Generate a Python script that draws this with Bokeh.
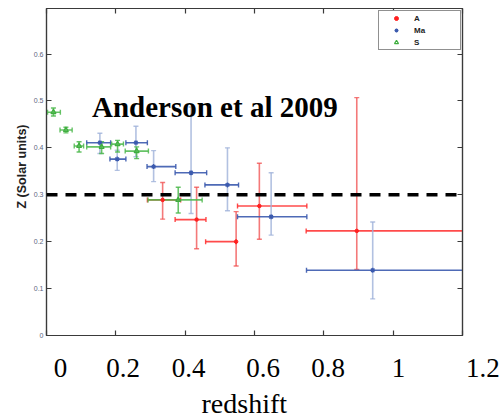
import math
from bokeh.plotting import figure
from bokeh.models import (Range1d, LinearAxis, FixedTicker, Span, Label, Title,
                          Legend, LegendItem)
from bokeh.embed import file_html
from bokeh.resources import INLINE

# ---------------- data ----------------
# Series "A" (red)
a_z    = [0.335, 0.433, 0.547, 0.614, 0.895]
a_z_lo = [0.291, 0.371, 0.459, 0.551, 0.749]
a_z_hi = [0.387, 0.460, 0.547, 0.751, 1.300]
a_m    = [0.289, 0.247, 0.200, 0.276, 0.223]
a_m_lo = [0.248, 0.185, 0.148, 0.205, 0.141]
a_m_hi = [0.326, 0.316, 0.264, 0.367, 0.507]

# Series "Ma" (blue)
ma_z    = [0.154, 0.204, 0.258, 0.309, 0.417, 0.522, 0.648, 0.941]
ma_z_lo = [0.116, 0.183, 0.229, 0.290, 0.371, 0.457, 0.551, 0.750]
ma_z_hi = [0.185, 0.229, 0.291, 0.373, 0.462, 0.554, 0.751, 1.300]
ma_m    = [0.411, 0.376, 0.411, 0.360, 0.347, 0.321, 0.253, 0.139]
ma_m_lo = [0.388, 0.352, 0.381, 0.328, 0.260, 0.266, 0.214, 0.078]
ma_m_hi = [0.431, 0.395, 0.446, 0.394, 0.487, 0.400, 0.347, 0.242]

# Series "S" (green)
s_z    = [0.020, 0.056, 0.094, 0.159, 0.205, 0.260, 0.380]
s_z_lo = [0.003, 0.039, 0.080, 0.116, 0.188, 0.227, 0.293]
s_z_hi = [0.040, 0.074, 0.107, 0.185, 0.222, 0.294, 0.449]
s_m    = [0.476, 0.438, 0.404, 0.402, 0.408, 0.393, 0.289]
s_m_lo = [0.468, 0.432, 0.391, 0.388, 0.391, 0.377, 0.261]
s_m_hi = [0.485, 0.444, 0.413, 0.413, 0.416, 0.402, 0.316]

ref_level = 0.3

x_ticks = [0, 0.2, 0.4, 0.6, 0.8, 1.0, 1.2]
x_tick_labels = ["0", "0.2", "0.4", "0.6", "0.8", "1", "1.2"]
y_ticks = [0, 0.1, 0.2, 0.3, 0.4, 0.5, 0.6]
y_tick_labels = ["0", "0.1", "0.2", "0.3", "0.4", "0.5", "0.6"]

title_text = "Anderson et al 2009"
x_title = "redshift"
y_title = "Z (Solar units)"
series_names = ["A", "Ma", "S"]

# ---------------- figure ----------------
X0, X1 = 0.0, 1.2
Y0, Y1 = 0.0, 0.697
FL, FR, FT, FB = 46, 462, 8, 335   # frame edges in pixels

p = figure(width=501, height=419, x_range=Range1d(X0, X1), y_range=Range1d(Y0, Y1),
           output_backend="svg", toolbar_location=None,
           min_border_left=FL, min_border_right=501 - FR, min_border_top=FT,
           min_border_bottom=419 - FB)
p.background_fill_color = "white"
p.border_fill_color = "white"
p.outline_line_color = "#3a3a3a"
p.outline_line_width = 1.2
p.xgrid.visible = False
p.ygrid.visible = False

axis_col = "#3a3a3a"

def style_axis(ax, ticks, show_labels, labels=None):
    ax.ticker = FixedTicker(ticks=ticks)
    ax.axis_line_color = axis_col
    ax.axis_line_width = 1.2
    ax.major_tick_line_color = axis_col
    ax.major_tick_line_width = 1.2
    ax.major_tick_in = 5
    ax.major_tick_out = 0
    ax.minor_tick_line_color = None
    if show_labels:
        ax.major_label_text_font = "Liberation Sans"
        ax.major_label_text_font_size = "7px"
        ax.major_label_text_color = "#5d6680"
        ax.major_label_standoff = 3
        if labels is not None:
            ax.major_label_overrides = {t: l for t, l in zip(ticks, labels)}
    else:
        ax.major_label_text_font_size = "0px"
        ax.major_label_text_color = None
        ax.major_label_standoff = 0

style_axis(p.xaxis[0], x_ticks, False)
style_axis(p.yaxis[0], y_ticks, True, y_tick_labels)

top_ax = LinearAxis()
style_axis(top_ax, x_ticks, False)
p.add_layout(top_ax, "above")
right_ax = LinearAxis()
style_axis(right_ax, y_ticks, False)
p.add_layout(right_ax, "right")

# big slide-style x tick labels, on an extra axis without line / ticks
def px_to_x(px):
    return X0 + (px - FL) / (FR - FL) * (X1 - X0)

def py_to_y(py):
    return Y0 + (FB - py) / (FB - FT) * (Y1 - Y0)

label_px = [60, 122.5, 188, 262.5, 327.5, 398]
big_pos = [px_to_x(v) for v in label_px] + [x_ticks[-1]]
big_txt = x_tick_labels[:-1] + ["\u00a0" * 6 + x_tick_labels[-1]]
big_ax = LinearAxis(ticker=FixedTicker(ticks=big_pos),
                    major_label_overrides={t: l for t, l in zip(big_pos, big_txt)})
big_ax.axis_line_color = None
big_ax.major_tick_line_color = None
big_ax.minor_tick_line_color = None
big_ax.major_tick_in = 0
big_ax.major_tick_out = 0
big_ax.major_label_standoff = 17
big_ax.major_label_text_font = "Liberation Serif"
big_ax.major_label_text_font_size = "27px"
big_ax.major_label_text_color = "black"
p.add_layout(big_ax, "below")

# axis titles
p.add_layout(Title(text=x_title, align="left", offset=201 - FL, standoff=0,
                   text_font="Liberation Serif", text_font_style="normal",
                   text_font_size="28px", text_color="black"), "below")
p.add_layout(Title(text=y_title, align="left", offset=FB - 208, standoff=3,
                   text_font="Liberation Sans", text_font_style="bold",
                   text_font_size="12.5px", text_color="#222222"), "left")

# ---------------- error bars ----------------
def draw_series(z, zlo, zhi, m, mlo, mhi, hcol, vcol, halpha, valpha):
    p.segment(x0=zlo, y0=m, x1=zhi, y1=m, line_color=hcol, line_width=1.6, line_alpha=halpha)
    p.segment(x0=z, y0=mlo, x1=z, y1=mhi, line_color=vcol, line_width=1.6, line_alpha=valpha)
    p.scatter(x=zlo + zhi, y=m + m, marker="dash", angle=math.pi / 2, size=5,
              line_color=hcol, line_width=1.4, line_alpha=halpha)
    p.scatter(x=z + z, y=mlo + mhi, marker="dash", size=5,
              line_color=vcol, line_width=1.4, line_alpha=valpha)

red_h, red_v = "#ff2a2a", "#f04c4c"
blue_h, blue_v = "#3b5aae", "#9fb1d9"
green_h, green_v = "#4cb84c", "#4cb84c"

draw_series(a_z, a_z_lo, a_z_hi, a_m, a_m_lo, a_m_hi, red_h, red_v, 0.85, 0.75)
draw_series(ma_z, ma_z_lo, ma_z_hi, ma_m, ma_m_lo, ma_m_hi, blue_h, blue_v, 0.9, 0.8)
draw_series(s_z, s_z_lo, s_z_hi, s_m, s_m_lo, s_m_hi, green_h, green_v, 0.85, 0.85)

r_a = p.scatter(x=a_z, y=a_m, marker="circle", size=3.5, fill_color="#ff2020",
                line_color="#ff2020")
r_ma = p.scatter(x=ma_z, y=ma_m, marker="asterisk", size=5, line_color="#3b5aae",
                 line_width=1.2)
r_s = p.scatter(x=s_z, y=s_m, marker="triangle", size=5, fill_color=None,
                line_color="#3fae3f", line_width=1.2)

# ---------------- reference line ----------------
p.add_layout(Span(location=ref_level, dimension="width", line_color="black",
                  line_width=3.5, line_dash="11 8", level="overlay"))

# ---------------- legend ----------------
legend = Legend(items=[LegendItem(label=series_names[0], renderers=[r_a]),
                       LegendItem(label=series_names[1], renderers=[r_ma]),
                       LegendItem(label=series_names[2], renderers=[r_s])],
                location=(332, 285))
legend.label_text_font = "Liberation Sans"
legend.label_text_font_style = "bold"
legend.label_text_font_size = "8px"
legend.label_text_color = "#222222"
legend.label_height = 10
legend.label_width = 44
legend.label_standoff = 3
legend.glyph_width = 30
legend.glyph_height = 10
legend.spacing = 2
legend.padding = 2
legend.margin = 0
legend.border_line_color = "#222222"
legend.border_line_width = 1
legend.background_fill_color = "white"
legend.background_fill_alpha = 1
p.add_layout(legend, "center")

# ---------------- overlay title ----------------
p.add_layout(Label(x=px_to_x(91.5), y=py_to_y(106.5), text=title_text,
                   text_font="Liberation Serif", text_font_style="bold",
                   text_font_size="29px", text_color="black",
                   text_align="left", text_baseline="alphabetic"))

open("out.html", "w").write(file_html(p, INLINE))
